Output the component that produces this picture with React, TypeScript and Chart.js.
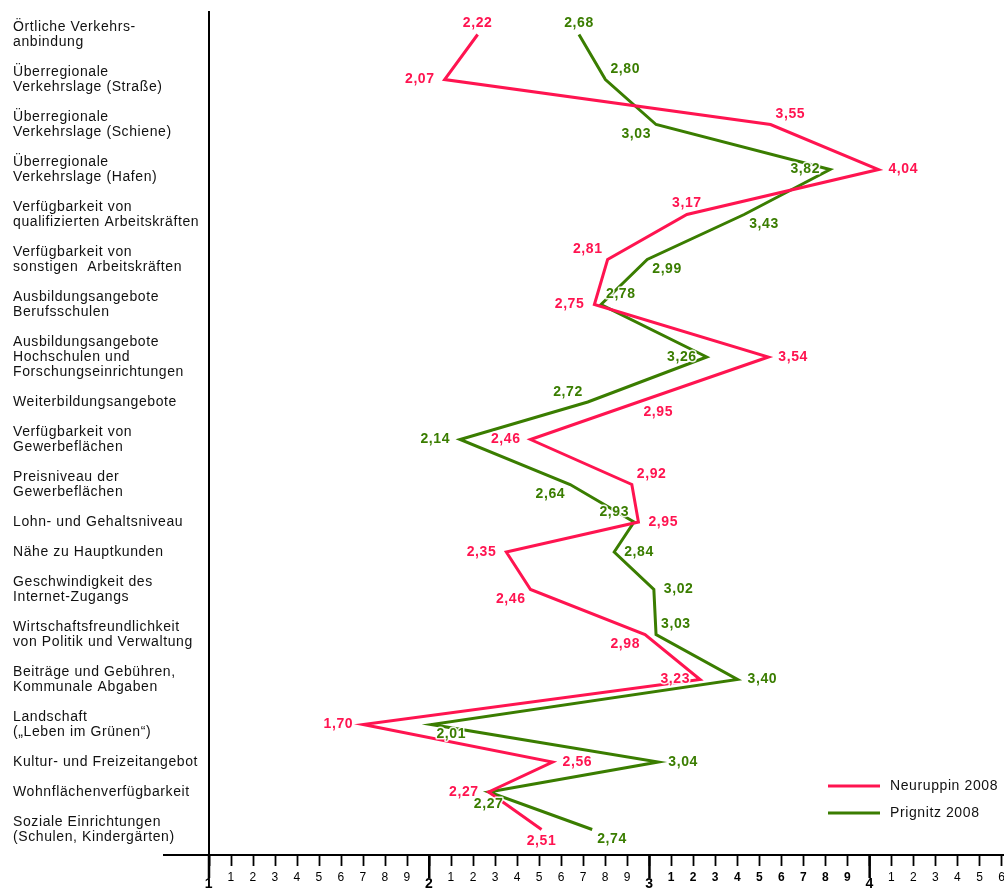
import React, { useEffect, useRef } from "react";
import { Chart, registerables } from "chart.js";

Chart.register(...registerables);

// ---------- data ----------
const categories: string[][] = [
  ["Örtliche Verkehrs-", "anbindung"],
  ["Überregionale", "Verkehrslage (Straße)"],
  ["Überregionale", "Verkehrslage (Schiene)"],
  ["Überregionale", "Verkehrslage (Hafen)"],
  ["Verfügbarkeit von", "qualifizierten Arbeitskräften"],
  ["Verfügbarkeit von", "sonstigen  Arbeitskräften"],
  ["Ausbildungsangebote", "Berufsschulen"],
  ["Ausbildungsangebote", "Hochschulen und", "Forschungseinrichtungen"],
  ["Weiterbildungsangebote"],
  ["Verfügbarkeit von", "Gewerbeflächen"],
  ["Preisniveau der", "Gewerbeflächen"],
  ["Lohn- und Gehaltsniveau"],
  ["Nähe zu Hauptkunden"],
  ["Geschwindigkeit des", "Internet-Zugangs"],
  ["Wirtschaftsfreundlichkeit", "von Politik und Verwaltung"],
  ["Beiträge und Gebühren,", "Kommunale Abgaben"],
  ["Landschaft", "(„Leben im Grünen“)"],
  ["Kultur- und Freizeitangebot"],
  ["Wohnflächenverfügbarkeit"],
  ["Soziale Einrichtungen", "(Schulen, Kindergärten)"],
];

const neuruppin2008 = [
  2.22, 2.07, 3.55, 4.04, 3.17, 2.81, 2.75, 3.54, 2.95, 2.46,
  2.92, 2.95, 2.35, 2.46, 2.98, 3.23, 1.7, 2.56, 2.27, 2.51,
];

const prignitz2008 = [
  2.68, 2.8, 3.03, 3.82, 3.43, 2.99, 2.78, 3.26, 2.72, 2.14,
  2.64, 2.93, 2.84, 3.02, 3.03, 3.4, 2.01, 3.04, 2.27, 2.74,
];

const seriesNames = ["Neuruppin 2008", "Prignitz 2008"];
const xMin = 1;
const xMax = 4.61;
const xStep = 0.1;
const xMajorTicks = [1, 2, 3, 4];

// where each value label sits relative to its point (a=above, b=below, l=left, r=right)
const neuruppinLabelSide = [
  "a", "l", "ar", "r", "a", "al", "l", "r", "br", "l",
  "ar", "r", "l", "bl", "bl", "l", "l", "r", "l", "b",
];
const prignitzLabelSide = [
  "a", "ar", "bl", "l", "br", "br", "ar", "l", "al", "l",
  "bl", "al", "r", "r", "ar", "r", "br", "r", "b", "br",
];

// ---------- styles ----------
const RED = "#FF1450";
const GREEN = "#3A7D00";
const FONT = '"Liberation Sans", Arial, Helvetica, sans-serif';
const SPACING = "0.6px";
const W = 996;
const H = 880;

// row centres measured in text-line units, derived from label line counts
const rowPos: number[] = (() => {
  let cum = 0;
  return categories.map((c) => {
    const p = cum + 0.5 + c.length / 2;
    cum += c.length + 1;
    return p;
  });
})();

const seriesValues = [neuruppin2008, prignitz2008];
const labelSides = [neuruppinLabelSide, prignitzLabelSide];

const spacingPlugin = {
  id: "spacing",
  beforeDraw(chart: any) {
    (chart.ctx as any).letterSpacing = SPACING;
  },
  beforeDatasetsDraw(chart: any) {
    (chart.ctx as any).letterSpacing = "0px";
  },
};

const valueLabelsPlugin = {
  id: "valueLabels",
  afterDatasetsDraw(chart: any) {
    const ctx = chart.ctx as CanvasRenderingContext2D;
    ctx.save();
    (ctx as any).letterSpacing = SPACING;
    ctx.font = `bold 14px ${FONT}`;
    ctx.textAlign = "center";
    ctx.textBaseline = "middle";
    ctx.lineJoin = "round";
    chart.data.datasets.forEach((ds: any, di: number) => {
      const meta = chart.getDatasetMeta(di);
      meta.data.forEach((pt: any, i: number) => {
        const v = seriesValues[di][i];
        const text = v.toFixed(2).replace(".", ",");
        const w = ctx.measureText(text).width;
        const side = labelSides[di][i];
        let cx = pt.x;
        let cy = pt.y;
        const single = side.length === 1;
        if (side.includes("r")) cx += (single ? 10 : 5) + w / 2;
        if (side.includes("l")) cx -= (single ? 10 : 5) + w / 2;
        if (side.includes("a")) cy -= single ? 11 : 10;
        if (side.includes("b")) cy += single ? 12 : 10;
        ctx.strokeStyle = "rgba(255,255,255,0.9)";
        ctx.lineWidth = 3;
        ctx.strokeText(text, cx, cy);
        ctx.fillStyle = ds.borderColor;
        ctx.fillText(text, cx, cy);
      });
    });
    ctx.restore();
  },
};

const axisExtrasPlugin = {
  id: "axisExtras",
  afterDraw(chart: any) {
    const ctx = chart.ctx as CanvasRenderingContext2D;
    const area = chart.chartArea;
    const xs = chart.scales.x;
    ctx.save();
    ctx.strokeStyle = "#000";
    // left extension of the category axis line
    ctx.lineWidth = 2;
    ctx.beginPath();
    ctx.moveTo(155, area.bottom);
    ctx.lineTo(area.left, area.bottom);
    ctx.stroke();
    // long major ticks
    ctx.lineWidth = 2.5;
    xMajorTicks.forEach((v) => {
      const px = xs.getPixelForValue(v);
      ctx.beginPath();
      ctx.moveTo(px, area.bottom);
      ctx.lineTo(px, area.bottom + 23);
      ctx.stroke();
    });
    // legend
    const lx = 820;
    const ly = [778, 805];
    (ctx as any).letterSpacing = SPACING;
    ctx.font = `14px ${FONT}`;
    ctx.textAlign = "left";
    ctx.textBaseline = "middle";
    chart.data.datasets.forEach((ds: any, i: number) => {
      ctx.strokeStyle = ds.borderColor;
      ctx.lineWidth = 3;
      ctx.beginPath();
      ctx.moveTo(lx, ly[i]);
      ctx.lineTo(lx + 52, ly[i]);
      ctx.stroke();
      ctx.fillStyle = "#111";
      ctx.fillText(ds.label, lx + 62, ly[i]);
    });
    ctx.restore();
  },
};

export default function App() {
  const canvasRef = useRef<HTMLCanvasElement | null>(null);

  useEffect(() => {
    // let the page use the full window width to the right edge
    document.body.style.marginRight = "0px";
    const canvas = canvasRef.current;
    if (!canvas) return;
    const chart = new Chart(canvas, {
      type: "line",
      data: {
        datasets: [
          {
            label: seriesNames[0],
            data: neuruppin2008.map((v, i) => ({ x: v, y: rowPos[i] })),
            borderColor: RED,
            backgroundColor: RED,
            borderWidth: 3,
            pointRadius: 0,
            tension: 0,
            fill: false,
          },
          {
            label: seriesNames[1],
            data: prignitz2008.map((v, i) => ({ x: v, y: rowPos[i] })),
            borderColor: GREEN,
            backgroundColor: GREEN,
            borderWidth: 3,
            pointRadius: 0,
            tension: 0,
            fill: false,
          },
        ],
      },
      options: {
        animation: false,
        responsive: false,
        maintainAspectRatio: false,
        devicePixelRatio: 1,
        layout: { padding: { left: 5, top: 4, right: 0, bottom: 0 } },
        plugins: {
          legend: { display: false },
          tooltip: { enabled: false },
        },
        scales: {
          x: {
            type: "linear",
            min: xMin,
            max: xMax,
            ticks: {
              stepSize: xStep,
              includeBounds: false,
              autoSkip: false,
              maxRotation: 0,
              padding: 4,
              color: "#000",
              callback: (value: any) => {
                const r = Math.round(Number(value) * 10);
                if (r % 10 === 0) return ["", String(r / 10)];
                return String(r % 10);
              },
              font: (ctx: any) => {
                const v = ctx.tick ? ctx.tick.value : 0;
                const r = Math.round(v * 10);
                if (r % 10 === 0)
                  return { family: FONT, size: 14, weight: "bold", lineHeight: 0.68 };
                if (r > 30 && r < 40)
                  return { family: FONT, size: 12, weight: "bold", lineHeight: 1.2 };
                return { family: FONT, size: 12, weight: "normal", lineHeight: 1.2 };
              },
            },
            grid: {
              drawOnChartArea: false,
              drawTicks: true,
              tickLength: 11,
              tickWidth: 1.8,
              tickColor: "#000",
            },
            border: { display: true, color: "#000", width: 2 },
            afterFit: (scale: any) => {
              scale.height = 33;
              scale.paddingLeft = 0;
              scale.paddingRight = 0;
            },
          },
          y: {
            type: "linear",
            reverse: true,
            min: 0,
            max: 56.2,
            afterBuildTicks: (scale: any) => {
              scale.ticks = rowPos.map((p) => ({ value: p }));
            },
            ticks: {
              autoSkip: false,
              crossAlign: "far",
              padding: 0,
              color: "#111",
              font: { family: FONT, size: 14, lineHeight: 1.07 },
              callback: (_value: any, index: number) => categories[index],
            },
            grid: {
              drawOnChartArea: false,
              drawTicks: false,
            },
            border: { display: true, color: "#000", width: 2 },
            afterFit: (scale: any) => {
              scale.width = 196;
              scale.paddingTop = 0;
              scale.paddingBottom = 0;
            },
          },
        },
      },
      plugins: [spacingPlugin, valueLabelsPlugin, axisExtrasPlugin],
    } as any);
    return () => chart.destroy();
  }, []);

  return (
    <div style={{ width: W, height: H }}>
      <canvas ref={canvasRef} width={W} height={H} style={{ display: "block" }} />
    </div>
  );
}
